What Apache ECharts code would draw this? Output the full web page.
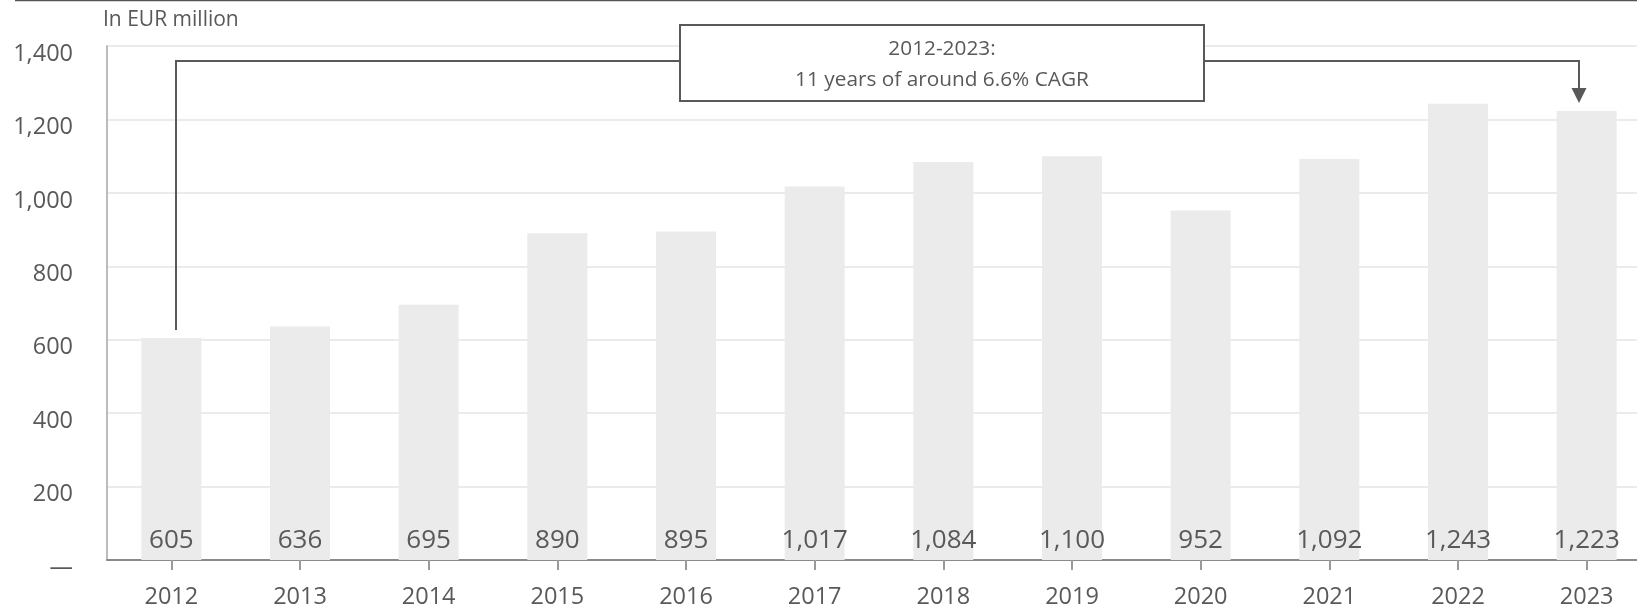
<!DOCTYPE html>
<html>
<head>
<meta charset="utf-8">
<script src="https://cdn.jsdelivr.net/npm/echarts@6/dist/echarts.min.js"></script>
<style>
  html, body { margin: 0; padding: 0; background: #fff; }
  #chart { width: 1637px; height: 607px; }
</style>
</head>
<body>
<div id="chart"></div>
<script>
// Revenue per year, in EUR million
const years = ['2012', '2013', '2014', '2015', '2016', '2017', '2018', '2019', '2020', '2021', '2022', '2023'];
const revenue = [605, 636, 695, 890, 895, 1017, 1084, 1100, 952, 1092, 1243, 1223];
const yTicks = [0, 200, 400, 600, 800, 1000, 1200, 1400];
const unitLabel = 'In EUR million';
const calloutLines = ['2012-2023:', '11 years of around 6.6% CAGR'];

const FONT = '"Open Sans", "Noto Sans", sans-serif';
const TEXT = '#595959';
const LINE = '#595959';

const chart = echarts.init(document.getElementById('chart'), null, { renderer: 'canvas' });

chart.setOption({
  animation: false,
  backgroundColor: '#ffffff',
  // plot runs past the right edge, so the last bar sits close to the border
  grid: { left: 107, width: 1544, top: 46, bottom: 47, containLabel: false, outerBoundsMode: 'none' },
  xAxis: {
    type: 'category',
    data: years,
    boundaryGap: true,
    axisLine: { show: true, lineStyle: { color: '#8a8a8a', width: 2 } },
    axisTick: { show: true, alignWithLabel: true, length: 10, lineStyle: { color: '#9a9a9a', width: 2 } },
    axisLabel: { color: TEXT, fontFamily: FONT, fontSize: 23.5, margin: 25 },
    splitLine: { show: false }
  },
  yAxis: {
    type: 'value',
    min: yTicks[0],
    max: yTicks[yTicks.length - 1],
    interval: yTicks[1] - yTicks[0],
    axisLine: { show: true, lineStyle: { color: '#a6a6a6', width: 1.5 } },
    axisTick: { show: false },
    axisLabel: {
      color: TEXT, fontFamily: FONT, fontSize: 23.5, margin: 34,
      verticalAlign: 'top', lineHeight: 16,
      formatter: v => v === 0 ? '—' : v.toLocaleString('en-US')
    },
    splitLine: { show: true, lineStyle: { color: '#ebebeb', width: 2 } }
  },
  series: [{
    type: 'bar',
    data: revenue,
    barWidth: 60,
    itemStyle: { color: '#ebebeb' },
    label: {
      show: true,
      position: 'insideBottom',
      distance: 6,
      color: TEXT,
      fontFamily: FONT,
      fontSize: 26,
      formatter: p => p.value.toLocaleString('en-US')
    }
  }]
});

// Callout bracket from the first year to the last year
function drawCallout() {
  const first = chart.convertToPixel({ xAxisIndex: 0, yAxisIndex: 0 }, [0, revenue[0]]);
  const last = chart.convertToPixel({ xAxisIndex: 0, yAxisIndex: 0 }, [years.length - 1, revenue[revenue.length - 1]]);

  const box = { x: 680, y: 25, w: 524, h: 76 };
  const railY = 61;
  const lx = Math.round(first[0]) + 5;
  const rx = Math.round(last[0]) - 8;
  const tipY = last[1] - 8;

  chart.setOption({
    graphic: [
      { type: 'line', shape: { x1: 15, y1: 0.5, x2: 1637, y2: 0.5 }, style: { stroke: '#555', lineWidth: 1.5 } },
      {
        type: 'text', left: 103, top: 10,
        style: { text: unitLabel, fill: TEXT, font: '21px ' + FONT }
      },
      {
        type: 'polyline',
        shape: { points: [[lx, first[1] - 8], [lx, railY], [box.x, railY]] },
        style: { stroke: LINE, lineWidth: 2, fill: null }
      },
      {
        type: 'polyline',
        shape: { points: [[box.x + box.w, railY], [rx, railY], [rx, tipY - 14]] },
        style: { stroke: LINE, lineWidth: 2, fill: null }
      },
      {
        type: 'polygon',
        shape: { points: [[rx - 7.5, tipY - 15], [rx + 7.5, tipY - 15], [rx, tipY]] },
        style: { fill: LINE }
      },
      {
        type: 'rect',
        shape: { x: box.x, y: box.y, width: box.w, height: box.h },
        style: { fill: '#fff', stroke: LINE, lineWidth: 2 }
      },
      {
        type: 'text',
        x: box.x + box.w / 2, y: box.y + box.h / 2 + 1.5,
        style: {
          text: calloutLines.join('\n'),
          fill: TEXT, font: '20.8px ' + FONT,
          align: 'center', verticalAlign: 'middle', lineHeight: 31
        }
      }
    ]
  });
}
drawCallout();
</script>
</body>
</html>
